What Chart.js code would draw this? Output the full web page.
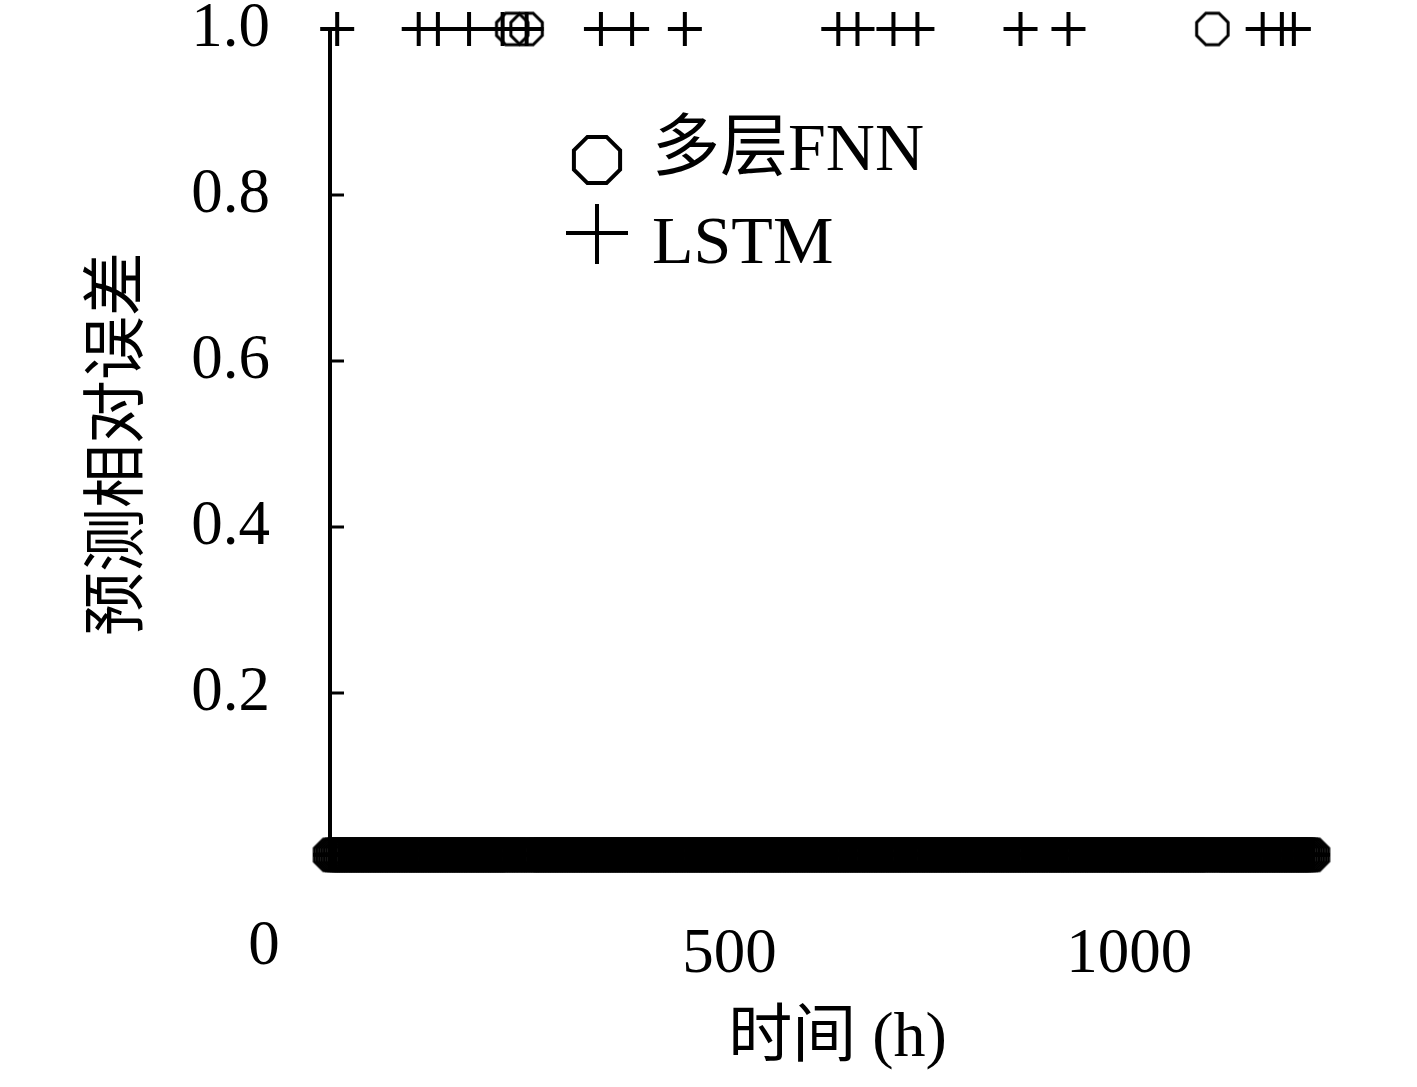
<!DOCTYPE html>
<html>
<head>
<meta charset="utf-8">
<script src="https://cdn.jsdelivr.net/npm/chart.js@4.4.0/dist/chart.umd.min.js"></script>
<style>
  html, body { margin: 0; padding: 0; background: #fff; }
  #wrap { width: 1417px; height: 1087px; }
</style>
</head>
<body>
<div id="wrap"><canvas id="errChart"></canvas></div>
<script>
// sampling times (h), one reading every 3 h
const hours = [];
for (let t = 0; t <= 1230; t += 3) hours.push(t);

// hours where the error sits at the 1.0 ceiling, everything else on the floor
const fnnPeaks = [228, 246, 1104];
const lstmPeaks = [9, 111, 135, 174, 216, 246, 339, 378, 444, 636, 660, 705, 735, 864, 924, 1167, 1191, 1206];
const floorError = 0.005;
const peakError = 1.0;

const fnnErr = hours.map(t => fnnPeaks.includes(t) ? peakError : floorError);
const lstmErr = hours.map(t => lstmPeaks.includes(t) ? peakError : floorError);

const xTicks = [0, 500, 1000];
const yTicks = [0.2, 0.4, 0.6, 0.8, 1.0];
const seriesNames = ['多层FNN', 'LSTM'];

const FONT = "'Liberation Serif', 'DejaVu Serif', 'Noto Sans CJK SC', serif";

// outline octagon used as point style
function octagon(r, lw) {
    const size = Math.ceil(2 * r + lw + 2);
    const c = document.createElement('canvas');
    c.width = size;
    c.height = size;
    const g = c.getContext('2d');
    g.strokeStyle = '#000';
    g.lineWidth = lw;
    g.beginPath();
    for (let i = 0; i < 8; i++) {
        const a = Math.PI / 8 + i * Math.PI / 4;
        const px = size / 2 + r * Math.cos(a);
        const py = size / 2 + r * Math.sin(a);
        if (i === 0) g.moveTo(px, py); else g.lineTo(px, py);
    }
    g.closePath();
    g.stroke();
    return c;
}

const octSmall = octagon(17, 3);
const octBig = octagon(25, 4);

const extras = {
    id: 'extras',
    afterDraw(chart) {
        const ctx = chart.ctx;
        const area = chart.chartArea;
        const xs = chart.scales.x;
        const ys = chart.scales.y;
        ctx.save();

        // inward tick marks on the y axis
        ctx.strokeStyle = '#000';
        ctx.lineWidth = 3;
        yTicks.forEach(v => {
            const py = ys.getPixelForValue(v);
            ctx.beginPath();
            ctx.moveTo(area.left, py);
            ctx.lineTo(area.left + 14, py);
            ctx.stroke();
        });

        // the origin label sits left of the axis
        ctx.fillStyle = '#000';
        ctx.font = '63px ' + FONT;
        ctx.textAlign = 'center';
        ctx.textBaseline = 'middle';
        ctx.fillText('0', xs.getPixelForValue(0) - 66, xs.top + 51 + 63 * 1.2 / 2);

        // legend
        const lx = area.left + 267;
        ctx.drawImage(octBig, lx - octBig.width / 2, 160 - octBig.height / 2);
        ctx.lineWidth = 4;
        ctx.beginPath();
        ctx.moveTo(lx - 31, 233);
        ctx.lineTo(lx + 31, 233);
        ctx.moveTo(lx, 204);
        ctx.lineTo(lx, 264);
        ctx.stroke();

        ctx.font = '68px ' + FONT;
        ctx.textAlign = 'left';
        ctx.textBaseline = 'alphabetic';
        ctx.fillText(seriesNames[0], lx + 55, 170);
        ctx.fillText(seriesNames[1], lx + 55, 263);
        ctx.restore();
    }
};

new Chart(document.getElementById('errChart'), {
    type: 'scatter',
    data: {
        datasets: [
            {
                label: seriesNames[0],
                data: hours.map((t, i) => ({ x: t, y: fnnErr[i] })),
                pointStyle: octSmall,
                pointRadius: 17,
                pointBorderColor: '#000',
                pointBackgroundColor: 'transparent',
                clip: false
            },
            {
                label: seriesNames[1],
                data: hours.map((t, i) => ({ x: t, y: lstmErr[i] })),
                pointStyle: 'cross',
                pointRadius: 17,
                pointBorderWidth: 4,
                pointBorderColor: '#000',
                pointBackgroundColor: 'transparent',
                clip: false
            }
        ]
    },
    options: {
        responsive: true,
        maintainAspectRatio: false,
        animation: false,
        layout: { padding: { left: 0, right: 72, top: 29, bottom: 0 } },
        plugins: {
            legend: { display: false },
            tooltip: { enabled: false }
        },
        scales: {
            x: {
                type: 'linear',
                min: 0,
                max: 1270,
                grid: { display: false },
                border: { display: false },
                afterBuildTicks: s => { s.ticks = xTicks.map(v => ({ value: v })); },
                afterFit: s => { s.height = 228; s.paddingLeft = 0; s.paddingRight = 0; },
                ticks: {
                    padding: 51,
                    maxRotation: 0,
                    color: '#000',
                    font: { family: FONT, size: 63 },
                    callback: v => v === 0 ? '' : String(v)
                },
                title: {
                    display: true,
                    text: '时间 (h)',
                    color: '#000',
                    font: { family: FONT, size: 64 },
                    padding: { top: 0, bottom: 9 }
                }
            },
            y: {
                min: 0,
                max: 1,
                grid: { display: false },
                border: { display: true, color: '#000', width: 4 },
                afterBuildTicks: s => { s.ticks = yTicks.map(v => ({ value: v })); },
                afterFit: s => { s.width = 330; s.paddingTop = 0; s.paddingBottom = 0; },
                ticks: {
                    padding: 52,
                    color: '#000',
                    font: { family: FONT, size: 63, lineHeight: 0.9 },
                    callback: v => v.toFixed(1)
                },
                title: {
                    display: true,
                    text: '预测相对误差',
                    color: '#000',
                    font: { family: FONT, size: 64 },
                    padding: { top: 82, bottom: 0 }
                }
            }
        }
    },
    plugins: [extras]
});
</script>
</body>
</html>
